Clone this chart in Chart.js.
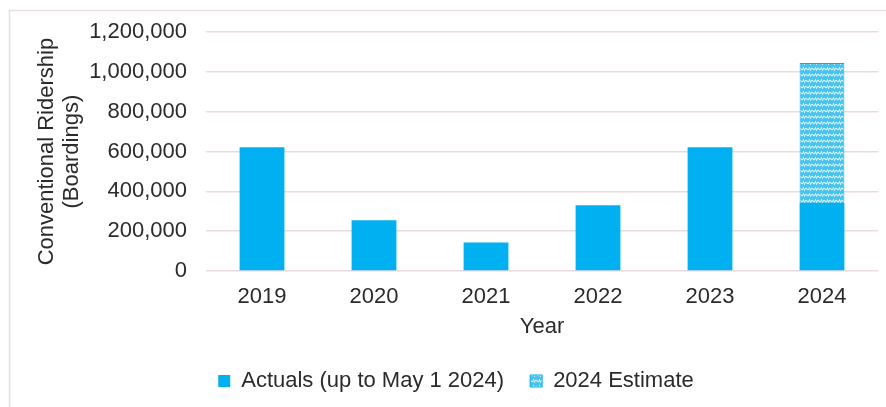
<!DOCTYPE html>
<html>
<head>
<meta charset="utf-8">
<script src="https://cdn.jsdelivr.net/npm/chart.js@4.4.1/dist/chart.umd.min.js"></script>
<style>
html,body{margin:0;padding:0;background:#fff;}
#wrap{position:relative;width:886px;height:407px;}
</style>
</head>
<body>
<div id="wrap"><canvas id="c" width="886" height="407"></canvas></div>
<script>
const years = ['2019', '2020', '2021', '2022', '2023', '2024'];
const actuals = [622000, 255000, 143000, 330000, 622000, 342000];
const estimate = [null, null, null, null, null, 703000];
const yMax = 1200000;
const yStep = 200000;
const seriesNames = ['Actuals (up to May 1 2024)', '2024 Estimate'];
const axisTitleY = ['Conventional Ridership', '(Boardings)'];
const axisTitleX = 'Year';

const CYAN = '#00B0F0';
const FONT = '"Liberation Sans", Arial, sans-serif';

function makePattern() {
  const p = document.createElement('canvas');
  p.width = 6; p.height = 6;
  const g = p.getContext('2d');
  g.fillStyle = '#45c4f2';
  g.fillRect(0, 0, 6, 6);
  g.strokeStyle = 'rgba(255,255,255,0.8)';
  g.lineWidth = 1.2;
  g.beginPath();
  g.moveTo(0, 5); g.quadraticCurveTo(1.5, 1, 3, 3); g.quadraticCurveTo(4.5, 5, 6, 1);
  g.stroke();
  return document.createElement('canvas').getContext('2d').createPattern(p, 'repeat');
}
const pattern = makePattern();

const framePlugin = {
  id: 'frame',
  beforeDraw(chart) {
    const ctx = chart.ctx;
    ctx.save();
    ctx.strokeStyle = '#eadde1';
    ctx.lineWidth = 1.5;
    ctx.beginPath();
    ctx.moveTo(9.5, 407);
    ctx.lineTo(9.5, 10.5);
    ctx.lineTo(886, 10.5);
    ctx.stroke();
    ctx.restore();
  }
};

new Chart(document.getElementById('c'), {
  type: 'bar',
  data: {
    labels: years,
    datasets: [
      { label: seriesNames[0], data: actuals, backgroundColor: CYAN, borderWidth: 0,
        categoryPercentage: 1, barPercentage: 0.4 },
      { label: seriesNames[1], data: estimate, backgroundColor: pattern, borderColor: CYAN, borderWidth: 1,
        categoryPercentage: 1, barPercentage: 0.4 }
    ]
  },
  options: {
    responsive: false,
    animation: false,
    devicePixelRatio: 1,
    layout: { padding: { left: 34, right: 8, top: 32, bottom: 5 } },
    plugins: {
      tooltip: { enabled: false },
      legend: {
        position: 'bottom',
        labels: {
          font: { family: FONT, size: 22 },
          color: '#2b2b2b',
          boxWidth: 12,
          boxHeight: 12,
          padding: 26
        }
      }
    },
    scales: {
      x: {
        stacked: true,
        grid: { display: false, drawTicks: false },
        border: { display: false },
        ticks: { font: { family: FONT, size: 22 }, color: '#2b2b2b', padding: 13 },
        title: { display: true, text: axisTitleX, font: { family: FONT, size: 22 }, color: '#2b2b2b',
                 padding: { top: 0, bottom: 4 } },
        afterFit(s) { s.height = 73; }
      },
      y: {
        stacked: true,
        min: 0, max: yMax,
        grid: { color: '#ead9de', lineWidth: 1.5, drawTicks: false },
        border: { display: false },
        ticks: { stepSize: yStep, font: { family: FONT, size: 22 }, color: '#2b2b2b', padding: 19,
                 callback: v => v.toLocaleString('en-US') },
        title: { display: true, text: axisTitleY, font: { family: FONT, size: 22, lineHeight: 1.15 },
                 color: '#2b2b2b', padding: { top: 0, bottom: 0 } },
        afterFit(s) { s.width = 172; }
      }
    }
  },
  plugins: [framePlugin]
});
</script>
</body>
</html>
